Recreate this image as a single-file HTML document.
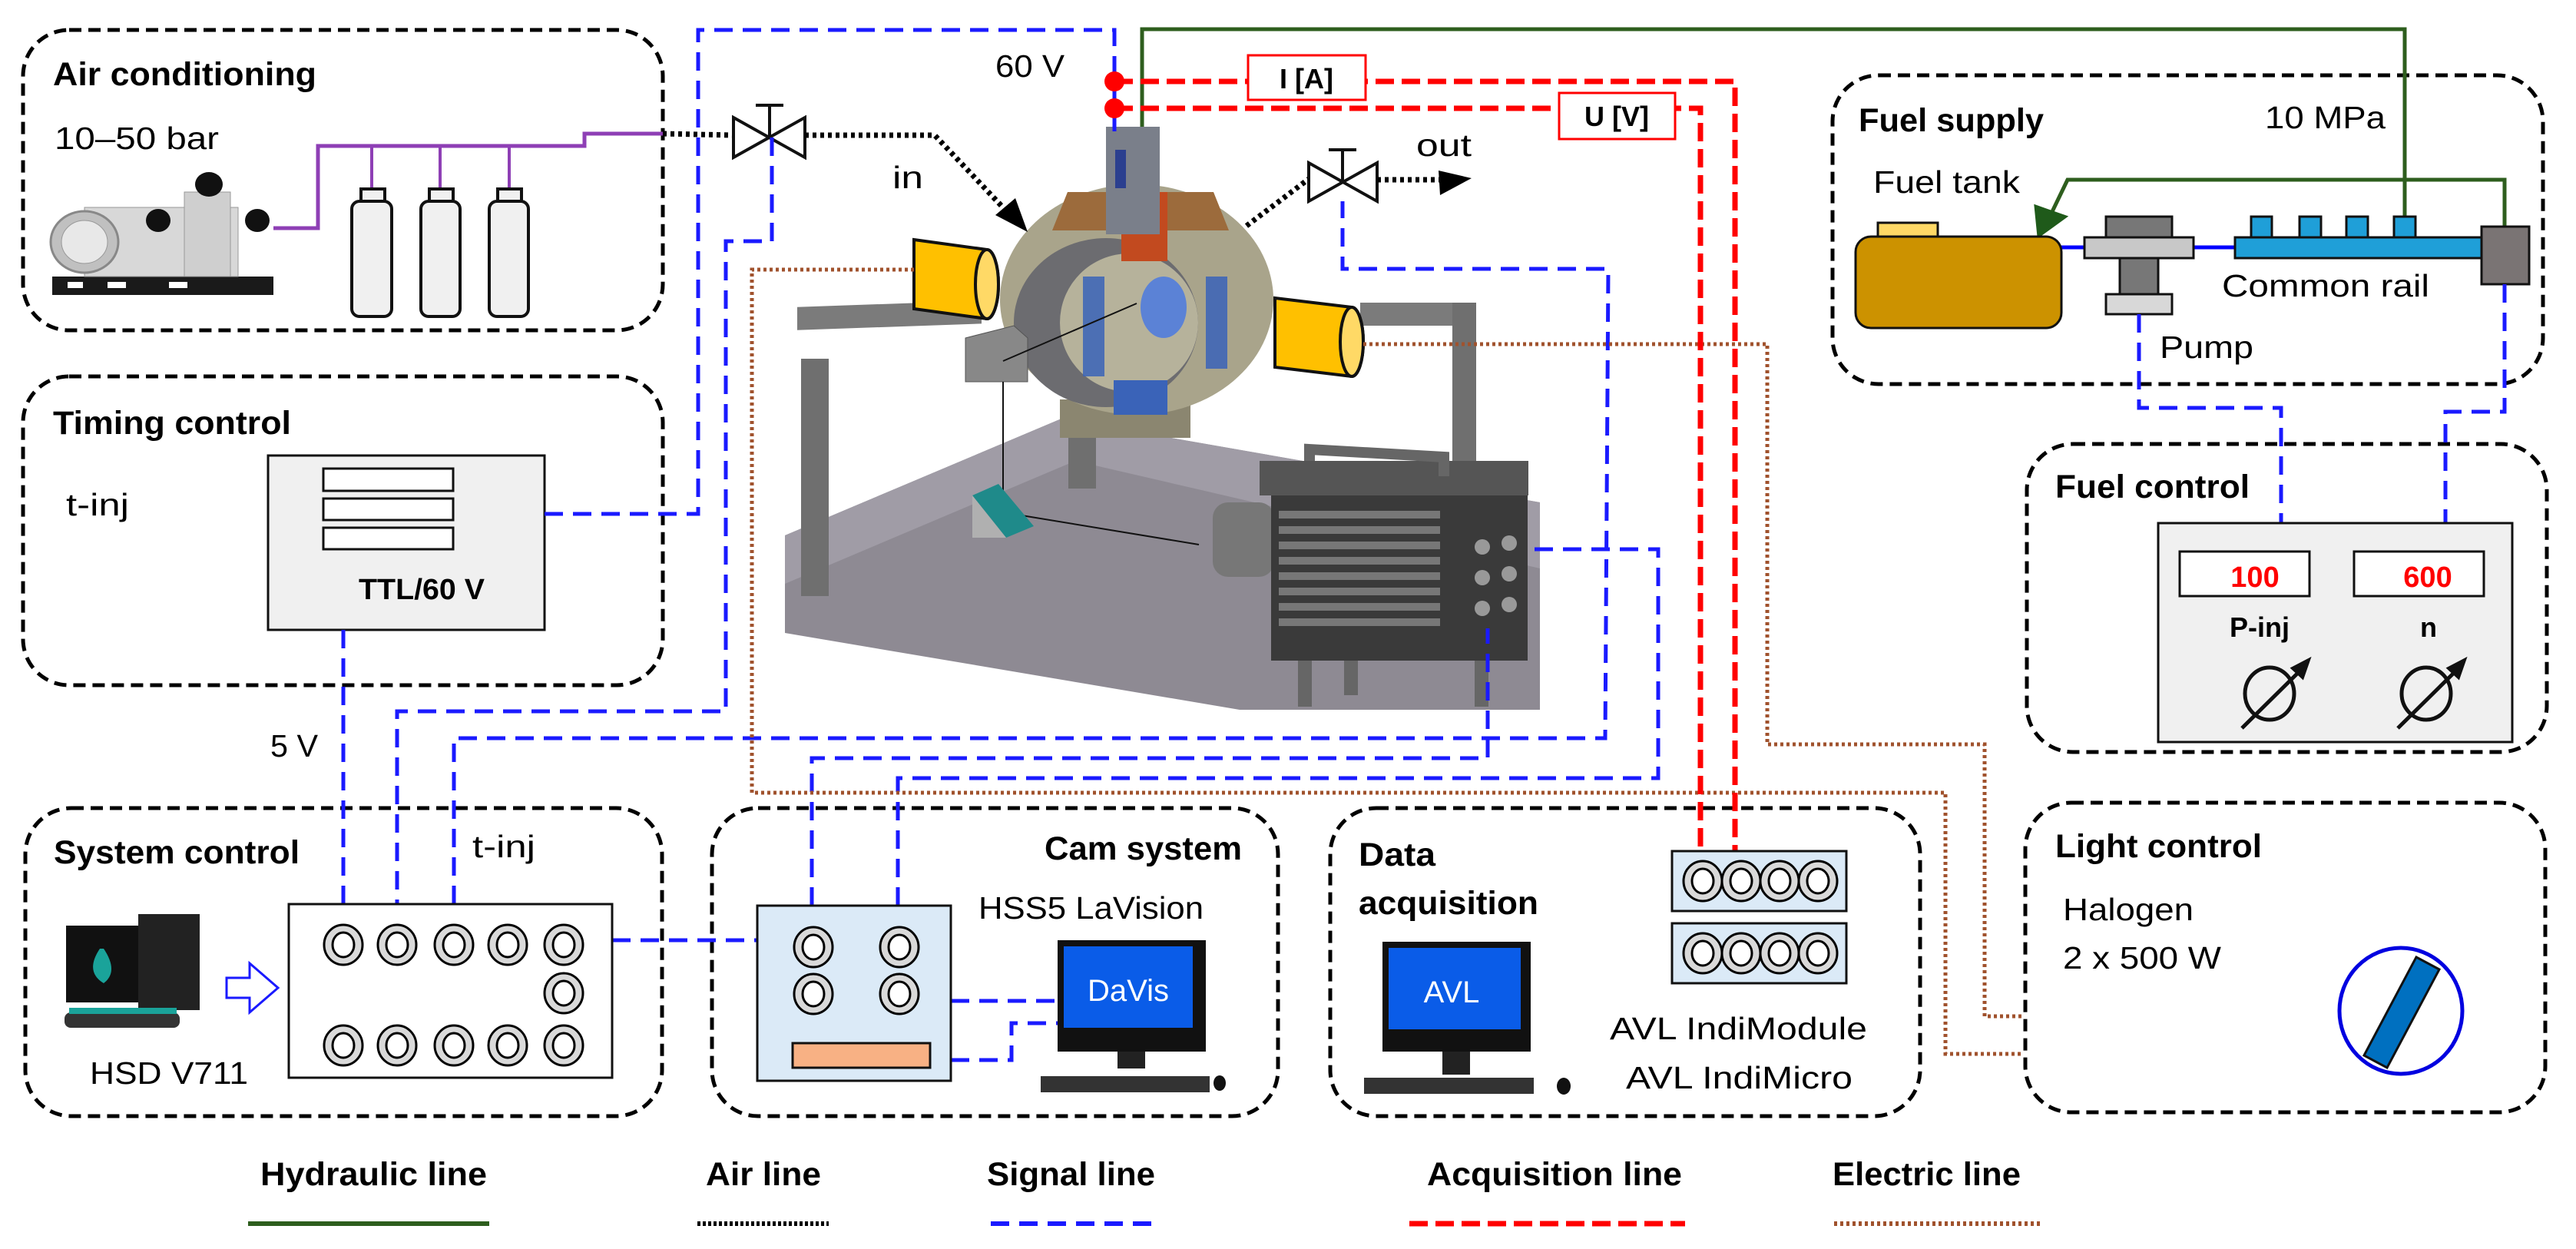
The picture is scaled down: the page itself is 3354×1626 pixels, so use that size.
<!DOCTYPE html>
<html><head><meta charset="utf-8"><style>
html,body{margin:0;padding:0;background:#fff;}
svg{display:block;}
text{font-family:"Liberation Sans",sans-serif;}
.t{font-weight:bold;font-size:43px;}
.r{font-size:41px;}
.box{fill:none;stroke:#000;stroke-width:5;stroke-dasharray:16 9;}
.sig{fill:none;stroke:#1a1aff;stroke-width:5;stroke-dasharray:24 13;}
.acq{fill:none;stroke:#ff0000;stroke-width:7;stroke-dasharray:24 10;}
.el{fill:none;stroke:#a0522d;stroke-width:5;stroke-dasharray:4 4;}
.air{fill:none;stroke:#000;stroke-width:7;stroke-dasharray:5 5;}
.hyd{fill:none;stroke:#2e5e1e;stroke-width:5;}
</style></head><body>
<svg width="3354" height="1626" viewBox="0 0 3354 1626" xmlns="http://www.w3.org/2000/svg">
<defs>
<g id="ring"><ellipse rx="25" ry="26" fill="#d9d9d9" stroke="#000" stroke-width="3"/><ellipse rx="14" ry="16" fill="#fff" stroke="#000" stroke-width="3"/></g>
</defs>

<rect class="box" x="30" y="39" width="833" height="391" rx="60"/>
<rect class="box" x="30" y="490" width="833" height="402" rx="60"/>
<rect class="box" x="33" y="1052" width="829" height="401" rx="60"/>
<rect class="box" x="927" y="1052" width="737" height="401" rx="60"/>
<rect class="box" x="1732" y="1052" width="768" height="401" rx="60"/>
<rect class="box" x="2637" y="1045" width="677" height="403" rx="60"/>
<rect class="box" x="2386" y="98" width="925" height="402" rx="60"/>
<rect class="box" x="2639" y="578" width="677" height="401" rx="60"/>

<text class="t" x="69" y="111" textLength="343" lengthAdjust="spacingAndGlyphs">Air conditioning</text>
<text class="r" x="71" y="194" textLength="214" lengthAdjust="spacingAndGlyphs">10–50 bar</text>
<text class="t" x="69" y="565" textLength="310" lengthAdjust="spacingAndGlyphs">Timing control</text>
<text class="r" x="86" y="671" textLength="82" lengthAdjust="spacingAndGlyphs">t-inj</text>
<text class="t" x="70" y="1124" textLength="320" lengthAdjust="spacingAndGlyphs">System control</text>
<text class="r" x="615" y="1116" textLength="82" lengthAdjust="spacingAndGlyphs">t-inj</text>
<text class="r" x="352" y="985" textLength="62" lengthAdjust="spacingAndGlyphs">5 V</text>
<text class="r" x="117" y="1411" textLength="206" lengthAdjust="spacingAndGlyphs">HSD V711</text>
<text class="t" x="1360" y="1119" textLength="257" lengthAdjust="spacingAndGlyphs">Cam system</text>
<text class="r" x="1274" y="1196" textLength="293" lengthAdjust="spacingAndGlyphs">HSS5 LaVision</text>
<text class="t" x="1769" y="1127" textLength="100" lengthAdjust="spacingAndGlyphs">Data</text>
<text class="t" x="1769" y="1190" textLength="234" lengthAdjust="spacingAndGlyphs">acquisition</text>
<text class="r" x="2096" y="1353" textLength="335" lengthAdjust="spacingAndGlyphs">AVL IndiModule</text>
<text class="r" x="2117" y="1417" textLength="295" lengthAdjust="spacingAndGlyphs">AVL IndiMicro</text>
<text class="t" x="2676" y="1116" textLength="269" lengthAdjust="spacingAndGlyphs">Light control</text>
<text class="r" x="2686" y="1198" textLength="170" lengthAdjust="spacingAndGlyphs">Halogen</text>
<text class="r" x="2686" y="1261" textLength="206" lengthAdjust="spacingAndGlyphs">2 x 500 W</text>
<text class="t" x="2420" y="171" textLength="241" lengthAdjust="spacingAndGlyphs">Fuel supply</text>
<text class="r" x="2949" y="167" textLength="157" lengthAdjust="spacingAndGlyphs">10 MPa</text>
<text class="r" x="2439" y="251" textLength="191" lengthAdjust="spacingAndGlyphs">Fuel tank</text>
<text class="r" x="2893" y="386" textLength="270" lengthAdjust="spacingAndGlyphs">Common rail</text>
<text class="r" x="2812" y="466" textLength="122" lengthAdjust="spacingAndGlyphs">Pump</text>
<text class="t" x="2676" y="648" textLength="253" lengthAdjust="spacingAndGlyphs">Fuel control</text>
<text class="r" x="1296" y="100" textLength="90" lengthAdjust="spacingAndGlyphs">60 V</text>
<text class="r" x="1162" y="245" textLength="40" lengthAdjust="spacingAndGlyphs">in</text>
<text class="r" x="1844" y="203" textLength="72" lengthAdjust="spacingAndGlyphs">out</text>

<text class="t" x="339" y="1543" textLength="295" lengthAdjust="spacingAndGlyphs">Hydraulic line</text>
<text class="t" x="919" y="1543" textLength="150" lengthAdjust="spacingAndGlyphs">Air line</text>
<text class="t" x="1285" y="1543" textLength="219" lengthAdjust="spacingAndGlyphs">Signal line</text>
<text class="t" x="1858" y="1543" textLength="332" lengthAdjust="spacingAndGlyphs">Acquisition line</text>
<text class="t" x="2386" y="1543" textLength="245" lengthAdjust="spacingAndGlyphs">Electric line</text>
<line class="hyd" x1="323" y1="1593" x2="637" y2="1593" style="stroke-width:6"/>
<line class="air" x1="908" y1="1593" x2="1079" y2="1593" style="stroke-width:6;stroke-dasharray:4 3"/>
<line class="sig" x1="1290" y1="1593" x2="1507" y2="1593" style="stroke-width:6"/>
<line class="acq" x1="1835" y1="1593" x2="2194" y2="1593"/>
<line class="el" x1="2388" y1="1593" x2="2660" y2="1593" style="stroke-width:6"/>

<g>
<rect x="68" y="360" width="288" height="24" fill="#1a1a1a"/>
<rect x="88" y="367" width="20" height="8" fill="#fff"/><rect x="140" y="367" width="24" height="8" fill="#fff"/><rect x="220" y="367" width="24" height="8" fill="#fff"/>
<rect x="110" y="270" width="200" height="90" fill="#d8d8d8" stroke="#999"/>
<ellipse cx="110" cy="315" rx="44" ry="40" fill="#c0c0c0" stroke="#888" stroke-width="3"/>
<ellipse cx="110" cy="315" rx="30" ry="28" fill="#e8e8e8" stroke="#999"/>
<rect x="240" y="250" width="60" height="110" fill="#cfcfcf" stroke="#999"/>
<ellipse cx="272" cy="240" rx="18" ry="16" fill="#111"/><ellipse cx="206" cy="287" rx="16" ry="15" fill="#111"/><ellipse cx="335" cy="287" rx="16" ry="15" fill="#111"/>
</g>
<polyline points="356,297 414,297 414,190 761,190 761,174 863,174" fill="none" stroke="#8e3fb5" stroke-width="5"/>
<g fill="#f0f0f0" stroke="#111" stroke-width="4">
<line x1="484" y1="190" x2="484" y2="246" stroke="#8e3fb5"/><line x1="573" y1="190" x2="573" y2="246" stroke="#8e3fb5"/><line x1="663" y1="190" x2="663" y2="246" stroke="#8e3fb5"/>
<rect x="470" y="246" width="31" height="16"/><rect x="559" y="246" width="31" height="16"/><rect x="648" y="246" width="31" height="16"/>
<rect x="458" y="262" width="52" height="150" rx="10"/><rect x="548" y="262" width="51" height="150" rx="10"/><rect x="637" y="262" width="51" height="150" rx="10"/>
</g>

<rect x="349" y="593" width="360" height="227" fill="#f0f0f0" stroke="#111" stroke-width="3"/>
<g fill="#fff" stroke="#111" stroke-width="3"><rect x="421" y="610" width="169" height="29"/><rect x="421" y="649" width="169" height="28"/><rect x="421" y="687" width="169" height="28"/></g>
<text class="t" x="467" y="780" textLength="164" lengthAdjust="spacingAndGlyphs" style="font-size:38px">TTL/60 V</text>

<g>
<polygon points="1022,697 1382,545 2005,654 2005,924 1614,924 1022,824" fill="#8e8a93"/>
<polygon points="1022,697 1382,545 2005,654 2005,740 1400,600 1022,760" fill="#a09ca6"/>
<rect x="1038" y="436" width="240" height="30" fill="#7b7b7b" transform="skewY(-2)"/>
<rect x="1043" y="467" width="36" height="309" fill="#6f6f6f"/>
<rect x="1771" y="394" width="151" height="30" fill="#7b7b7b"/>
<rect x="1891" y="394" width="31" height="273" fill="#6f6f6f"/>
<rect x="1391" y="527" width="36" height="109" fill="#6f6f6f"/>
<rect x="1380" y="520" width="170" height="50" fill="#8b8670"/>
<ellipse cx="1480" cy="390" rx="178" ry="150" fill="#a9a48b"/>
<ellipse cx="1440" cy="420" rx="120" ry="110" fill="#6c6c70"/>
<ellipse cx="1470" cy="420" rx="90" ry="90" fill="#b6b29b"/>
<rect x="1410" y="360" width="28" height="130" fill="#3a63b8" opacity=".85"/>
<rect x="1570" y="360" width="28" height="120" fill="#3a63b8" opacity=".85"/>
<ellipse cx="1515" cy="400" rx="30" ry="40" fill="#5b82d6"/>
<rect x="1450" y="495" width="70" height="45" fill="#3a63b8"/>
<polygon points="1390,250 1580,250 1600,300 1370,300" fill="#9c6b3c"/>
<rect x="1460" y="250" width="60" height="90" fill="#c24a1f"/>
<rect x="1440" y="165" width="70" height="140" fill="#7a7f8a"/>
<rect x="1452" y="195" width="14" height="50" fill="#2b3f8f"/>
<path d="M1190,312 L1285,325 A15,45 0 0 1 1285,415 L1190,402 Z" fill="#ffc000" stroke="#111" stroke-width="4"/>
<ellipse cx="1285" cy="370" rx="15" ry="45" fill="#ffd966" stroke="#111" stroke-width="4"/>
<path d="M1660,388 L1760,400 A15,45 0 0 1 1760,490 L1660,478 Z" fill="#ffc000" stroke="#111" stroke-width="4"/>
<ellipse cx="1760" cy="445" rx="15" ry="45" fill="#ffd966" stroke="#111" stroke-width="4"/>
<polygon points="1257,440 1320,424 1338,440 1338,497 1257,497" fill="#888" stroke="#555"/>
<polyline points="1306,497 1306,667 1561,709" fill="none" stroke="#111" stroke-width="2"/>
<line x1="1306" y1="470" x2="1480" y2="395" stroke="#111" stroke-width="2"/>
<polygon points="1266,645 1300,630 1346,685 1310,700" fill="#1f8a8a"/>
<polygon points="1266,645 1310,700 1266,700" fill="#b0b0b0"/>
<rect x="1579" y="654" width="80" height="97" rx="20" fill="#777"/>
<rect x="1655" y="640" width="334" height="220" fill="#3a3a3a"/>
<rect x="1640" y="600" width="350" height="45" fill="#555"/>
<path d="M1705,600 L1705,585 L1880,595 L1880,620" fill="none" stroke="#666" stroke-width="14"/>
<g fill="#777"><rect x="1665" y="665" width="210" height="10"/><rect x="1665" y="685" width="210" height="10"/><rect x="1665" y="705" width="210" height="10"/><rect x="1665" y="725" width="210" height="10"/><rect x="1665" y="745" width="210" height="10"/><rect x="1665" y="765" width="210" height="10"/><rect x="1665" y="785" width="210" height="10"/><rect x="1665" y="805" width="210" height="10"/></g>
<g fill="#999"><circle cx="1930" cy="712" r="10"/><circle cx="1965" cy="707" r="10"/><circle cx="1930" cy="752" r="10"/><circle cx="1965" cy="747" r="10"/><circle cx="1930" cy="792" r="10"/><circle cx="1965" cy="787" r="10"/></g>
<rect x="1690" y="860" width="18" height="60" fill="#666"/><rect x="1750" y="860" width="18" height="45" fill="#666"/><rect x="1920" y="860" width="18" height="60" fill="#666"/>
</g>

<polyline class="air" points="863,174 955,176"/>
<g fill="#fff" stroke="#111" stroke-width="4">
<polygon points="955,153 1048,205 1048,153 955,205"/>
<line x1="1002" y1="179" x2="1002" y2="137"/><line x1="984" y1="137" x2="1020" y2="137"/>
<polygon points="1704,212 1793,262 1793,212 1704,262"/>
<line x1="1748" y1="237" x2="1748" y2="195"/><line x1="1730" y1="195" x2="1766" y2="195"/>
</g>
<polyline class="air" points="1048,176 1217,176 1320,285"/>
<polygon points="1338,302 1296,280 1322,258" fill="#000"/>
<polyline class="air" points="1623,294 1704,233"/>
<polyline class="air" points="1793,234 1880,234"/>
<polygon points="1916,232 1873,222 1875,254" fill="#000"/>

<polyline class="hyd" points="1487,165 1487,38 3131,38 3131,282"/>
<polyline class="hyd" points="3261,295 3261,234 2692,234 2665,290"/>
<polygon points="2654,308 2650,268 2690,282" fill="#1f5a1a" stroke="#1f5a1a" stroke-width="3"/>

<line x1="2684" y1="322" x2="2714" y2="322" stroke="#0000ff" stroke-width="5"/>
<line x1="2856" y1="322" x2="2910" y2="322" stroke="#0000ff" stroke-width="5"/>
<rect x="2445" y="290" width="78" height="18" fill="#ffd966" stroke="#111" stroke-width="3"/>
<rect x="2416" y="308" width="268" height="119" rx="20" fill="#cc9200" stroke="#111" stroke-width="3"/>
<g stroke="#111" stroke-width="3">
<rect x="2742" y="282" width="86" height="27" fill="#777"/>
<rect x="2714" y="309" width="142" height="27" fill="#c8c8c8"/>
<rect x="2760" y="336" width="50" height="47" fill="#777"/>
<rect x="2742" y="383" width="86" height="26" fill="#d8d8d8"/>
<rect x="2931" y="282" width="27" height="27" fill="#1f9fd8"/><rect x="2994" y="282" width="28" height="27" fill="#1f9fd8"/><rect x="3055" y="282" width="28" height="27" fill="#1f9fd8"/><rect x="3117" y="282" width="28" height="27" fill="#1f9fd8"/>
<rect x="2910" y="309" width="321" height="27" fill="#1f9fd8"/>
<rect x="3231" y="295" width="62" height="75" fill="#7a7474"/>
</g>

<polyline class="sig" points="2785,409 2785,531 2970,531 2970,681"/>
<polyline class="sig" points="3261,370 3261,536 3184,536 3184,681"/>
<rect x="2810" y="681" width="461" height="285" fill="#f0f0f0" stroke="#111" stroke-width="3"/>
<rect x="2838" y="718" width="169" height="58" fill="#fff" stroke="#111" stroke-width="3"/>
<rect x="3065" y="718" width="169" height="58" fill="#fff" stroke="#111" stroke-width="3"/>
<text class="t" x="2936" y="764" fill="#ff0000" text-anchor="middle" style="font-size:38px">100</text>
<text class="t" x="3161" y="764" fill="#ff0000" text-anchor="middle" style="font-size:38px">600</text>
<text class="t" x="2903" y="829" style="font-size:36px">P-inj</text>
<text class="t" x="3151" y="829" style="font-size:36px">n</text>
<g stroke="#111" stroke-width="5" fill="none"><ellipse cx="2955" cy="903" rx="32" ry="34"/><ellipse cx="3159" cy="903" rx="32" ry="34"/>
<line x1="2919" y1="948" x2="2996" y2="872"/><line x1="3122" y1="948" x2="3199" y2="872"/></g>
<polygon points="3006,859 2985,870 2998,882" fill="#111" stroke="#111" stroke-width="4"/>
<polygon points="3209,859 3188,870 3201,882" fill="#111" stroke="#111" stroke-width="4"/>

<polyline class="sig" points="709,669 909,669 909,39 1451,39 1451,180"/>
<polyline class="sig" points="1005,179 1005,314 945,314 945,926 517,926 517,1177"/>
<polyline class="sig" points="447,820 447,1177"/>
<polyline class="sig" points="591,1177 591,961 2090,961 2094,350 1748,350 1748,262"/>
<polyline class="sig" points="1057,1179 1057,987 1937,987 1937,818"/>
<polyline class="sig" points="1169,1179 1169,1013 2159,1013 2159,715 1985,715"/>
<polyline class="sig" points="797,1224 986,1224"/>
<polyline class="sig" points="1238,1303 1377,1303"/>
<polyline class="sig" points="1238,1380 1317,1380 1317,1332 1377,1332"/>

<polyline class="el" points="1190,351 979,351 979,1032 2533,1032 2533,1372 2634,1372"/>
<polyline class="el" points="1775,448 2301,448 2301,969 2584,969 2584,1323 2634,1323"/>

<polyline class="acq" points="1451,106 2259,106 2259,1108"/>
<polyline class="acq" points="1451,141 2214,141 2214,1108"/>
<circle cx="1451" cy="106" r="13" fill="#ff0000"/><circle cx="1451" cy="141" r="13" fill="#ff0000"/>
<rect x="1625" y="72" width="153" height="58" fill="#fff" stroke="#ff0000" stroke-width="3"/>
<text class="t" x="1701" y="115" text-anchor="middle" style="font-size:36px">I [A]</text>
<rect x="2030" y="121" width="151" height="60" fill="#fff" stroke="#ff0000" stroke-width="3"/>
<text class="t" x="2105" y="164" text-anchor="middle" style="font-size:36px">U [V]</text>

<rect x="376" y="1177" width="421" height="226" fill="#fff" stroke="#111" stroke-width="3"/>
<g>
<use href="#ring" x="447" y="1230"/><use href="#ring" x="517" y="1230"/><use href="#ring" x="591" y="1230"/><use href="#ring" x="661" y="1230"/><use href="#ring" x="734" y="1230"/>
<use href="#ring" x="734" y="1293"/>
<use href="#ring" x="447" y="1361"/><use href="#ring" x="517" y="1361"/><use href="#ring" x="591" y="1361"/><use href="#ring" x="661" y="1361"/><use href="#ring" x="734" y="1361"/>
</g>
<rect x="86" y="1205" width="110" height="100" fill="#111"/>
<rect x="180" y="1190" width="80" height="125" fill="#222"/>
<path d="M130,1235 q-20,30 5,45 q20,-15 0,-45z" fill="#1aa39a"/>
<rect x="84" y="1318" width="150" height="20" rx="8" fill="#333"/>
<rect x="90" y="1312" width="140" height="8" fill="#1aa39a"/>
<polygon points="295,1273 325,1273 325,1254 362,1286 325,1318 325,1299 295,1299" fill="#fff" stroke="#1a1aff" stroke-width="3"/>

<rect x="986" y="1179" width="252" height="228" fill="#dbeaf7" stroke="#111" stroke-width="3"/>
<use href="#ring" x="1059" y="1233"/><use href="#ring" x="1171" y="1233"/><use href="#ring" x="1059" y="1294"/><use href="#ring" x="1171" y="1294"/>
<rect x="1032" y="1358" width="179" height="32" fill="#f8b184" stroke="#111" stroke-width="3"/>
<rect x="1377" y="1224" width="193" height="145" fill="#111"/>
<rect x="1385" y="1232" width="168" height="106" fill="#0a5ce8"/>
<text x="1469" y="1303" fill="#fff" text-anchor="middle" style="font-size:40px">DaVis</text>
<rect x="1455" y="1369" width="36" height="22" fill="#222"/>
<rect x="1355" y="1401" width="220" height="21" fill="#333"/><ellipse cx="1588" cy="1410" rx="8" ry="10" fill="#111"/>

<rect x="1800" y="1226" width="193" height="143" fill="#111"/>
<rect x="1808" y="1234" width="172" height="106" fill="#0a5ce8"/>
<text x="1890" y="1305" fill="#fff" text-anchor="middle" style="font-size:40px">AVL</text>
<rect x="1878" y="1369" width="36" height="30" fill="#222"/>
<rect x="1776" y="1403" width="221" height="21" fill="#333"/><ellipse cx="2036" cy="1414" rx="9" ry="11" fill="#111"/>
<rect x="2177" y="1108" width="227" height="78" fill="#dbeaf7" stroke="#111" stroke-width="3"/>
<rect x="2177" y="1202" width="227" height="78" fill="#dbeaf7" stroke="#111" stroke-width="3"/>
<use href="#ring" x="2217" y="1147"/><use href="#ring" x="2267" y="1147"/><use href="#ring" x="2317" y="1147"/><use href="#ring" x="2367" y="1147"/>
<use href="#ring" x="2217" y="1241"/><use href="#ring" x="2267" y="1241"/><use href="#ring" x="2317" y="1241"/><use href="#ring" x="2367" y="1241"/>

<ellipse cx="3126" cy="1316" rx="80" ry="82" fill="#fff" stroke="#0000e0" stroke-width="5"/>
<polygon points="3146,1246 3176,1262 3108,1390 3078,1374" fill="#0070c0" stroke="#111" stroke-width="3"/>
</svg>
</body></html>
